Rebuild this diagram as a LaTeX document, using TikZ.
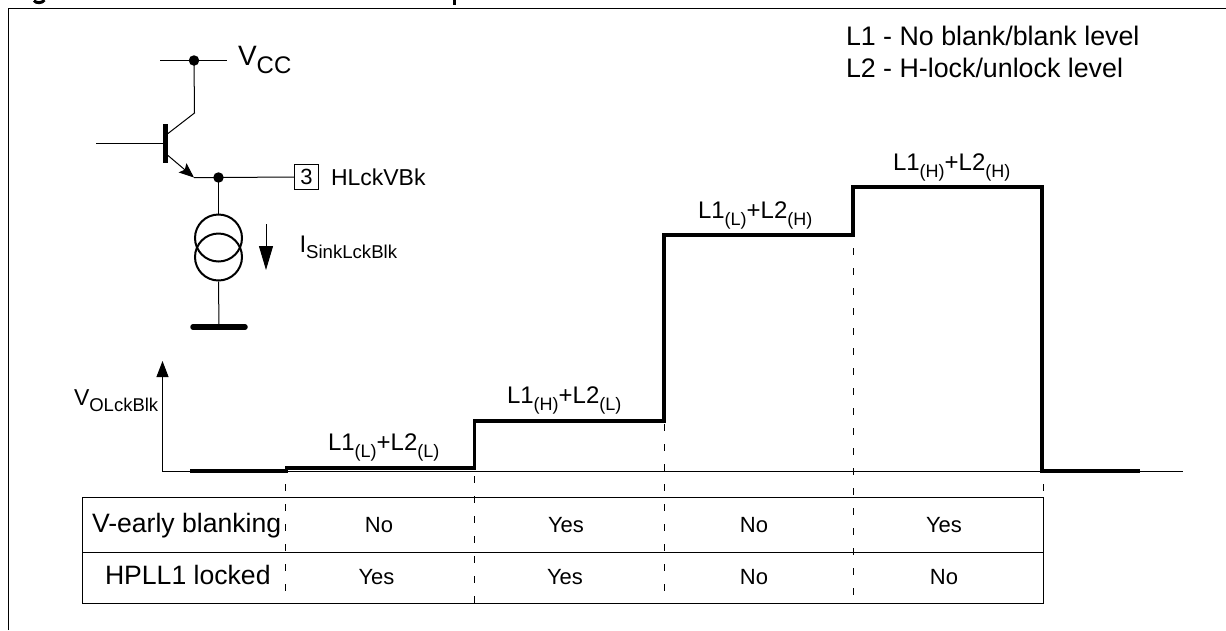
\documentclass[tikz,border=0pt]{standalone}
\usepackage{fontspec}
\setmainfont{Liberation Sans}
\usetikzlibrary{arrows.meta}
\newcommand{\fs}[1]{\fontsize{#1}{#1}\selectfont}
\newcommand{\lvl}[2]{\fs{24}L1{\fs{18}\raisebox{-7pt}{(#1)}}+L2{\fs{18}\raisebox{-7pt}{(#2)}}}
\tikzset{
  txt/.style={inner sep=0pt,outer sep=0pt,anchor=base west,text=black},
  ctr/.style={inner sep=0pt,outer sep=0pt,anchor=base,text=black},
  wire/.style={draw=black,line width=1pt},
  thick wave/.style={draw=black,line width=3.8pt,line join=miter},
  dot/.style={circle,fill=black,inner sep=0pt,minimum size=10.5pt},
  guide/.style={draw=black,line width=0.9pt,dash pattern=on 6.5pt off 13.5pt},
  src/.style={circle,draw=black,line width=2pt,minimum size=47pt,inner sep=0pt},
}
\begin{document}
\begin{tikzpicture}[x=1pt,y=-1pt]
\useasboundingbox (0,0) rectangle (1226,630);
\fill[white] (0,0) rectangle (1226,630);
% title remnants and frame
\draw[line width=3pt] (34,0.5) .. controls (36,3.5) and (42,3.5) .. (44.5,0);
\draw[line width=3pt] (454,0) -- (454,5);
\coordinate (fa) at (8.5,630); \coordinate (fb) at (8.5,8.5); \coordinate (fc) at (1226,8.5);
\draw[wire] (fa) -- (fb) -- (fc);
% transistor
\coordinate (vl) at (160,60.5); \coordinate (vr) at (227,60.5);
\node[dot] (vdot) at (194,60.5) {};
\coordinate (cc) at (194.5,113); \coordinate (cb) at (168,133.5);
\coordinate (bt) at (165.5,124); \coordinate (bb) at (165.5,163);
\coordinate (bin) at (96,143.5); \coordinate (bj) at (164,143.5);
\coordinate (ee) at (168,155.5); \coordinate (ej) at (194,177.5);
\node[dot] (edot) at (218.5,177.5) {};
\node[draw=black,line width=1pt,minimum width=24pt,minimum height=25pt,inner sep=0pt,outer sep=0pt] (pin) at (306.5,177) {\fs{22}3};
\draw[wire] (vl) -- (vr);
\draw[wire] (vdot.center) -- (cc) -- (cb);
\draw[line width=5.5pt] (bt) -- (bb);
\draw[wire] (bin) -- (bj);
\draw[wire,-{Stealth[length=15pt,width=12pt,inset=3pt]}] (ee) -- (ej);
\draw[wire] (ej) -- (edot.center) -- (pin.west);
% current source
\node[src] (c1) at (218.5,238) {};
\node[src] (c2) at (218.5,257) {};
\coordinate (gt) at (219,327);
\coordinate (gl) at (193,327); \coordinate (gr) at (245,327);
\draw[wire] (edot.center) -- (c1.north);
\draw[wire] (c2.south) -- (gt);
\draw[line width=5.5pt,line cap=round] (gl) -- (gr);
\coordinate (ia) at (266,224); \coordinate (ib) at (266,270);
\draw[wire,-{Triangle[length=24pt,width=14pt]}] (ia) -- (ib);
% circuit labels
\node[txt] (lvcc) at (238,65.5) {\fs{28}V\raisebox{-8pt}{\fs{24}CC}};
\node[txt] (lhl) at (331,185) {\fs{23}HLckVBk};
\node[txt] (lis) at (299.5,252) {\fs{24}I\raisebox{-6pt}{\fs{18.6}SinkLckBlk}};
\node[txt] (lvo) at (74,405) {\fs{23}V\raisebox{-6pt}{\fs{18.5}OLckBlk}};
\node[txt] (leg1) at (846,45) {\fs{26.8}L1 - No blank/blank level};
\node[txt] (leg2) at (846,77) {\fs{26.8}L2 - H-lock/unlock level};
% axes
\coordinate (o) at (162.5,471.5); \coordinate (ytop) at (162.5,361); \coordinate (xend) at (1183,471.5);
\draw[wire,-{Triangle[length=16pt,width=12pt]}] (o) -- (ytop);
\draw[wire] (o) -- (xend);
% waveform
\coordinate (w0) at (190,471); \coordinate (w1) at (288,471);
\coordinate (w2) at (285,467.7); \coordinate (w3) at (474.5,467.7); \coordinate (w4) at (474.5,420.7);
\coordinate (w5) at (664,420.7); \coordinate (w6) at (664,235); \coordinate (w7) at (853,235);
\coordinate (w8) at (853,187); \coordinate (w9) at (1042,187); \coordinate (w10) at (1042,471); \coordinate (w11) at (1140,471);
\draw[thick wave] (w0) -- (w1);
\draw[thick wave] (w2) -- (w3) -- (w4) -- (w5) -- (w6) -- (w7) -- (w8) -- (w9) -- (w10) -- (w11);
\node[txt] (a1) at (328,450) {\lvl{L}{L}};
\node[txt] (a2) at (507,403) {\lvl{H}{L}};
\node[txt] (a3) at (698,218) {\lvl{L}{H}};
\node[txt] (a4) at (893,170) {\lvl{H}{H}};
% table
\node[draw=black,line width=1pt,minimum width=961pt,minimum height=106pt,inner sep=0pt,outer sep=0pt] (tbl) at (562.5,550) {};
\draw[wire] (tbl.west |- 0,552) -- (tbl.east |- 0,552);
% guides
\coordinate (d1a) at (285.5,484); \coordinate (d1b) at (285.5,603);
\coordinate (d2a) at (474.5,476); \coordinate (d2b) at (474.5,603);
\coordinate (d3a) at (664.5,424); \coordinate (d3b) at (664.5,603);
\coordinate (d4a) at (853.5,248); \coordinate (d4b) at (853.5,603);
\coordinate (d5a) at (1043,484); \coordinate (d5b) at (1043,497);
\foreach \p/\q in {d1a/d1b,d2a/d2b,d3a/d3b,d4a/d4b,d5a/d5b} \draw[guide] (\p) -- (\q);
% table text
\node[txt] (r1) at (92,532) {\fs{26.6}V-early blanking};
\node[txt] (r2) at (105,584) {\fs{26.6}HPLL1 locked};
\node[ctr] (t11) at (379,532) {\fs{22}No};
\node[ctr] (t12) at (566,532) {\fs{22}Yes};
\node[ctr] (t13) at (754,532) {\fs{22}No};
\node[ctr] (t14) at (944,532) {\fs{22}Yes};
\node[ctr] (t21) at (376.5,584) {\fs{22}Yes};
\node[ctr] (t22) at (565,584) {\fs{22}Yes};
\node[ctr] (t23) at (754,584) {\fs{22}No};
\node[ctr] (t24) at (944,584) {\fs{22}No};
\end{tikzpicture}
\end{document}
